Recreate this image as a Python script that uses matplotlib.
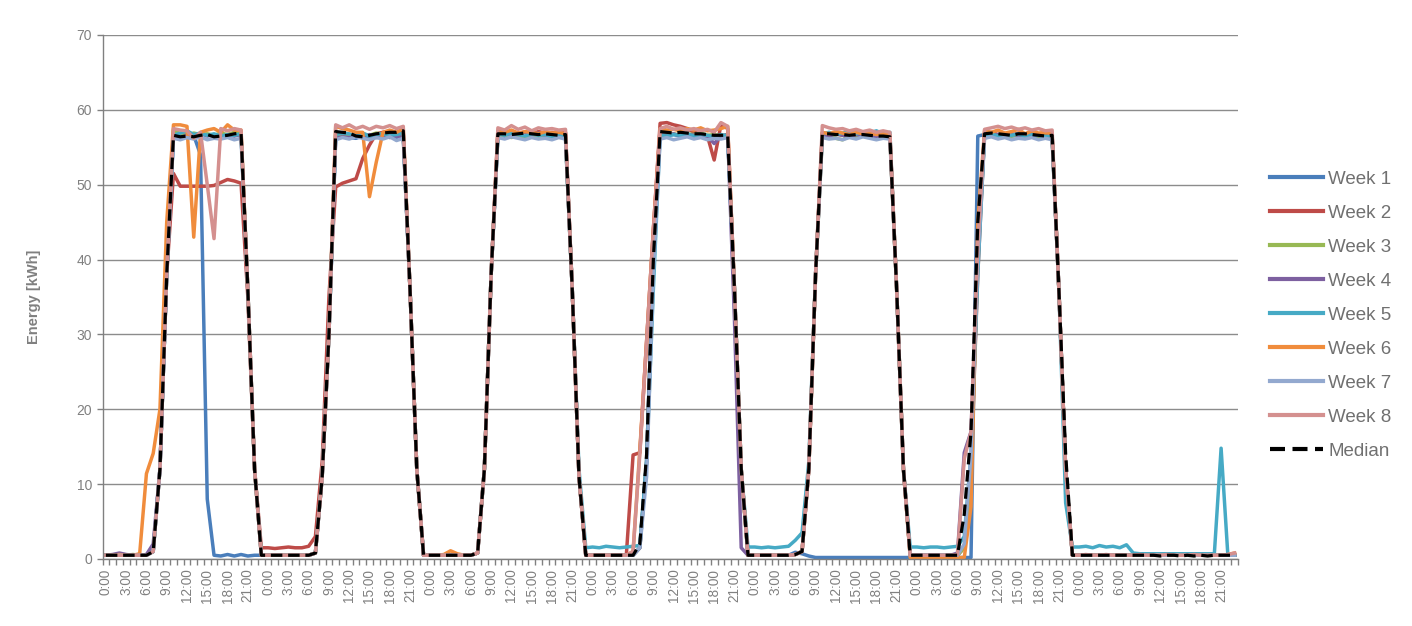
import numpy as np
import matplotlib
matplotlib.use('Agg')
import matplotlib.pyplot as plt

plt.rcParams['font.family'] = ['Liberation Sans', 'DejaVu Sans']

HOURS = [f'{h}:00' for h in range(24)]
N_DAYS = 7

# hourly energy [kWh], one row per day (Mon..Sun), 24 values each
WEEK_1 = [
    [0.5, 0.5, 0.6, 0.5, 0.5, 0.5, 0.5, 1.0, 12, 38, 56.5, 56.8, 57.0, 56.6, 54.0, 8.0, 0.5, 0.4, 0.6, 0.4, 0.6, 0.4, 0.5, 0.5],
    [0.5, 0.5, 0.5, 0.5, 0.5, 0.5, 0.5, 0.8, 11, 30, 56.6, 56.5, 56.3, 56.2, 56.5, 56.4, 56.3, 56.5, 56.6, 56.3, 56.8, 36, 12, 0.5],
    [0.5, 0.5, 0.5, 0.5, 0.5, 0.5, 0.5, 0.8, 12, 38, 56.6, 56.4, 56.5, 56.7, 56.4, 56.5, 56.6, 56.3, 56.5, 56.4, 56.6, 36, 11, 0.5],
    [0.5, 0.5, 0.5, 0.5, 0.5, 0.5, 0.5, 1.5, 13, 40, 56.8, 56.6, 56.7, 56.5, 56.6, 56.4, 56.6, 56.5, 56.3, 56.5, 56.6, 36, 12, 0.5],
    [0.5, 0.5, 0.5, 0.5, 0.5, 0.5, 0.9, 0.7, 0.4, 0.2, 0.2, 0.2, 0.2, 0.2, 0.2, 0.2, 0.2, 0.2, 0.2, 0.2, 0.2, 0.2, 0.2, 0.2],
    [0.2, 0.2, 0.2, 0.2, 0.2, 0.2, 0.2, 0.2, 0.2, 56.5, 56.7, 56.5, 56.6, 56.4, 56.5, 56.6, 56.4, 56.5, 56.3, 56.4, 56.5, 36, 12, 0.5],
    [0.5, 0.5, 0.5, 0.5, 0.5, 0.5, 0.5, 0.5, 0.5, 0.5, 0.5, 0.5, 0.5, 0.5, 0.5, 0.5, 0.5, 0.5, 0.5, 0.5, 0.5, 0.5, 0.5, 0.5],
]
WEEK_2 = [
    [0.5, 0.5, 0.5, 0.5, 0.5, 0.5, 0.5, 1.0, 12, 38, 51.5, 49.8, 49.8, 49.8, 49.8, 49.8, 49.9, 50.3, 50.7, 50.5, 50.2, 35, 12, 1.5],
    [1.5, 1.4, 1.5, 1.6, 1.5, 1.5, 1.7, 3.0, 13, 35, 49.7, 50.2, 50.5, 50.8, 53.5, 55.3, 56.8, 57.0, 57.1, 56.9, 57.0, 36, 12, 0.5],
    [0.5, 0.5, 0.5, 0.5, 0.5, 0.5, 0.5, 0.8, 12, 38, 57.0, 56.8, 57.1, 56.9, 57.0, 56.8, 57.1, 56.9, 57.0, 56.8, 57.0, 36, 11, 0.5],
    [0.5, 0.5, 0.5, 0.5, 0.5, 0.5, 13.9, 14.2, 29, 44, 58.2, 58.3, 58.0, 57.8, 57.5, 57.0, 56.8, 56.5, 53.3, 58.0, 57.5, 36, 12, 0.5],
    [0.5, 0.5, 0.5, 0.5, 0.5, 0.5, 0.6, 1.0, 12, 38, 56.9, 56.7, 56.8, 56.6, 56.8, 56.7, 56.9, 56.6, 56.7, 56.5, 56.6, 36, 12, 0.5],
    [0.5, 0.5, 0.5, 0.5, 0.5, 0.5, 0.5, 1.5, 12, 38, 56.9, 57.0, 56.7, 56.8, 56.6, 56.9, 56.7, 56.8, 56.6, 56.7, 56.5, 36, 12, 0.5],
    [0.5, 0.5, 0.5, 0.5, 0.5, 0.5, 0.5, 0.5, 0.5, 0.5, 0.5, 0.5, 0.5, 0.5, 0.5, 0.5, 0.5, 0.5, 0.5, 0.5, 0.5, 0.5, 0.5, 0.5],
]
WEEK_3 = [
    [0.5, 0.5, 0.5, 0.5, 0.6, 0.5, 0.5, 1.0, 12, 38, 57.3, 56.8, 56.6, 56.9, 56.7, 56.8, 56.6, 56.9, 56.7, 57.0, 56.8, 36, 12, 0.5],
    [0.5, 0.5, 0.5, 0.5, 0.5, 0.5, 0.5, 0.8, 11, 30, 56.8, 56.7, 56.6, 56.5, 56.8, 56.6, 56.9, 56.7, 56.5, 56.8, 56.6, 36, 12, 0.5],
    [0.5, 0.5, 0.5, 0.5, 0.5, 0.5, 0.5, 0.8, 12, 38, 56.5, 56.6, 56.3, 56.6, 56.2, 56.5, 56.4, 56.6, 56.3, 56.5, 56.4, 36, 11, 0.5],
    [0.5, 0.5, 0.5, 0.5, 0.5, 0.5, 0.5, 1.5, 13, 40, 56.9, 56.7, 56.8, 56.6, 56.8, 56.7, 56.9, 56.6, 56.7, 56.5, 56.7, 36, 12, 0.5],
    [0.5, 0.5, 0.5, 0.5, 0.5, 0.5, 0.6, 1.0, 12, 38, 56.4, 56.6, 56.2, 56.0, 56.5, 56.3, 56.6, 56.4, 56.2, 56.5, 56.3, 36, 12, 0.5],
    [0.5, 0.5, 0.5, 0.5, 0.5, 0.5, 0.5, 1.5, 12, 40, 56.5, 56.7, 56.4, 56.6, 56.5, 56.7, 56.3, 56.6, 56.4, 56.5, 56.3, 36, 12, 0.5],
    [0.5, 0.5, 0.5, 0.5, 0.5, 0.5, 0.5, 0.5, 0.5, 0.5, 0.5, 0.5, 0.5, 0.5, 0.5, 0.5, 0.5, 0.5, 0.5, 0.5, 0.5, 0.5, 0.5, 0.5],
]
WEEK_4 = [
    [0.5, 0.6, 0.8, 0.6, 0.5, 0.5, 0.6, 2.0, 12, 38, 56.5, 56.3, 56.6, 56.4, 56.8, 56.5, 56.7, 56.4, 56.6, 56.5, 56.7, 36, 12, 0.5],
    [0.5, 0.5, 0.5, 0.5, 0.5, 0.5, 0.5, 0.8, 11, 30, 56.2, 56.4, 56.3, 56.6, 56.5, 56.7, 56.4, 56.6, 56.3, 56.5, 56.4, 36, 12, 0.5],
    [0.5, 0.5, 0.5, 0.5, 0.5, 0.5, 0.5, 0.8, 12, 38, 56.7, 56.9, 56.6, 56.8, 57.0, 56.7, 56.9, 56.6, 56.8, 56.7, 56.9, 36, 11, 0.5],
    [0.5, 0.5, 0.5, 0.5, 0.5, 0.5, 0.5, 1.5, 13, 40, 56.7, 56.6, 56.8, 56.5, 56.7, 56.6, 56.4, 56.5, 55.5, 56.5, 56.7, 32, 1.5, 0.5],
    [0.5, 0.5, 0.5, 0.5, 0.5, 0.5, 0.6, 1.0, 12, 38, 56.7, 56.5, 56.8, 56.6, 56.4, 56.7, 56.5, 56.6, 56.4, 56.6, 56.5, 36, 12, 0.5],
    [0.5, 0.5, 0.5, 0.5, 0.5, 0.5, 0.8, 14.2, 17, 40, 56.8, 56.6, 56.7, 56.5, 56.8, 56.6, 56.7, 56.5, 56.6, 56.4, 56.6, 36, 12, 0.5],
    [0.5, 0.5, 0.5, 0.5, 0.5, 0.5, 0.5, 0.5, 0.5, 0.5, 0.5, 0.5, 0.5, 0.5, 0.5, 0.5, 0.5, 0.5, 0.5, 0.5, 0.5, 0.5, 0.5, 0.5],
]
WEEK_5 = [
    [0.5, 0.5, 0.5, 0.5, 0.5, 0.5, 0.5, 1.0, 12, 38, 56.6, 56.9, 57.2, 56.7, 56.9, 56.6, 56.8, 56.5, 56.7, 56.6, 56.8, 36, 12, 0.5],
    [0.5, 0.5, 0.5, 0.5, 0.5, 0.5, 0.5, 0.8, 11, 30, 56.7, 56.9, 56.8, 56.6, 56.9, 56.5, 56.7, 56.8, 56.6, 56.7, 56.9, 36, 12, 0.5],
    [0.5, 0.5, 0.5, 0.5, 0.5, 0.5, 0.5, 0.8, 12, 38, 56.8, 56.6, 56.9, 56.7, 56.5, 56.8, 56.6, 56.7, 56.4, 56.6, 56.5, 36, 12, 1.5],
    [1.6, 1.5, 1.7, 1.6, 1.5, 1.6, 1.7, 1.8, 13, 36, 56.6, 56.5, 56.7, 56.6, 56.8, 56.5, 56.7, 56.6, 56.4, 56.7, 56.5, 36, 12, 1.6],
    [1.6, 1.5, 1.6, 1.5, 1.6, 1.7, 2.5, 3.5, 13, 38, 56.8, 57.0, 56.7, 56.9, 57.1, 56.8, 57.0, 56.9, 57.2, 56.8, 57.0, 36, 12, 1.6],
    [1.6, 1.5, 1.6, 1.6, 1.5, 1.6, 1.7, 3.0, 14, 38, 56.6, 56.8, 56.5, 56.7, 56.6, 56.8, 56.5, 56.7, 56.6, 56.4, 56.6, 36, 7.5, 1.6],
    [1.6, 1.7, 1.5, 1.8, 1.6, 1.7, 1.5, 1.9, 0.8, 0.7, 0.7, 0.7, 0.7, 0.7, 0.7, 0.7, 0.7, 0.7, 0.7, 0.7, 0.7, 14.8, 0.5, 0.5],
]
WEEK_6 = [
    [0.5, 0.5, 0.6, 0.5, 0.5, 0.7, 11.4, 14.1, 20, 45, 58.0, 58.0, 57.8, 43.0, 57.0, 57.3, 57.5, 57.0, 58.0, 57.3, 57.3, 36, 12, 0.5],
    [0.5, 0.5, 0.5, 0.5, 0.5, 0.5, 0.5, 0.8, 11, 30, 57.8, 57.5, 57.3, 57.0, 57.0, 48.4, 53.0, 57.0, 57.3, 57.0, 57.5, 36, 12, 0.5],
    [0.5, 0.5, 0.6, 1.1, 0.7, 0.5, 0.5, 0.8, 12, 38, 57.2, 57.0, 57.3, 56.9, 57.1, 57.0, 56.8, 57.1, 56.9, 57.0, 56.8, 36, 11, 0.5],
    [0.5, 0.5, 0.5, 0.5, 0.5, 0.5, 1.0, 14.6, 29, 44, 57.5, 57.3, 57.4, 57.2, 57.5, 57.3, 57.6, 57.2, 57.3, 57.5, 57.8, 36, 12, 0.5],
    [0.5, 0.5, 0.5, 0.5, 0.5, 0.5, 0.6, 1.0, 12, 38, 57.0, 56.8, 57.1, 56.9, 56.7, 57.0, 56.8, 56.9, 56.7, 56.8, 56.6, 36, 12, 0.2],
    [0.2, 0.2, 0.2, 0.2, 0.2, 0.2, 0.2, 0.2, 7, 45, 57.2, 57.0, 57.3, 56.9, 57.1, 57.4, 56.8, 57.2, 56.9, 57.0, 56.8, 36, 12, 0.5],
    [0.5, 0.5, 0.5, 0.5, 0.5, 0.5, 0.5, 0.5, 0.5, 0.5, 0.5, 0.5, 0.5, 0.5, 0.5, 0.5, 0.5, 0.5, 0.5, 0.5, 0.5, 0.5, 0.6, 0.8],
]
WEEK_7 = [
    [0.5, 0.5, 0.5, 0.5, 0.5, 0.5, 0.5, 1.0, 12, 38, 56.2, 56.0, 56.3, 56.1, 56.4, 56.0, 56.2, 56.1, 56.3, 56.0, 56.2, 36, 12, 0.5],
    [0.5, 0.5, 0.5, 0.5, 0.5, 0.5, 0.5, 0.8, 11, 30, 56.0, 56.3, 56.1, 56.4, 56.2, 56.0, 56.3, 56.1, 56.4, 55.9, 56.2, 36, 12, 0.5],
    [0.5, 0.5, 0.5, 0.5, 0.5, 0.5, 0.5, 0.8, 12, 38, 56.3, 56.1, 56.4, 56.2, 56.0, 56.3, 56.1, 56.2, 56.0, 56.3, 56.1, 36, 11, 0.5],
    [0.5, 0.5, 0.5, 0.5, 0.5, 0.5, 0.5, 1.5, 11, 38, 56.1, 56.3, 56.0, 56.2, 56.4, 56.1, 56.3, 56.0, 56.2, 56.1, 56.3, 36, 12, 0.5],
    [0.5, 0.5, 0.5, 0.5, 0.5, 0.5, 0.6, 1.0, 12, 38, 56.3, 56.1, 56.2, 56.0, 56.3, 56.1, 56.4, 56.2, 56.0, 56.2, 56.1, 36, 12, 0.5],
    [0.5, 0.5, 0.5, 0.5, 0.5, 0.5, 0.5, 2.0, 14, 40, 56.2, 56.4, 56.1, 56.3, 56.0, 56.2, 56.1, 56.3, 56.0, 56.2, 56.0, 36, 12, 0.5],
    [0.5, 0.5, 0.5, 0.5, 0.5, 0.5, 0.5, 0.5, 0.5, 0.5, 0.5, 0.5, 0.5, 0.5, 0.5, 0.5, 0.5, 0.5, 0.5, 0.5, 0.5, 0.5, 0.5, 0.5],
]
WEEK_8 = [
    [0.5, 0.5, 0.5, 0.5, 0.5, 0.5, 0.5, 1.0, 12, 38, 57.5, 57.3, 57.2, 56.2, 57.0, 50.0, 42.8, 57.5, 57.2, 57.5, 57.3, 36, 12, 0.5],
    [0.5, 0.5, 0.5, 0.5, 0.5, 0.5, 0.5, 0.8, 11, 30, 58.0, 57.6, 58.0, 57.5, 57.8, 57.4, 57.8, 57.6, 57.9, 57.5, 57.8, 36, 12, 0.5],
    [0.5, 0.5, 0.5, 0.5, 0.5, 0.5, 0.5, 0.8, 12, 38, 57.6, 57.3, 57.9, 57.4, 57.7, 57.2, 57.6, 57.4, 57.5, 57.3, 57.4, 36, 11, 0.5],
    [0.5, 0.5, 0.5, 0.5, 0.5, 0.5, 1.0, 14.0, 29, 44, 57.5, 57.8, 57.4, 57.6, 57.3, 57.5, 57.2, 57.4, 57.0, 58.3, 57.8, 36, 12, 0.5],
    [0.5, 0.5, 0.5, 0.5, 0.5, 0.5, 0.6, 1.0, 12, 38, 57.9, 57.6, 57.4, 57.5, 57.2, 57.4, 57.1, 57.3, 57.0, 57.2, 57.0, 36, 12, 0.5],
    [0.5, 0.5, 0.5, 0.5, 0.5, 0.5, 0.6, 13.4, 17, 42, 57.4, 57.6, 57.8, 57.5, 57.7, 57.4, 57.6, 57.3, 57.5, 57.2, 57.3, 36, 12, 0.5],
    [0.5, 0.6, 0.5, 0.5, 0.6, 0.5, 0.5, 0.5, 0.5, 0.6, 0.5, 0.5, 0.5, 0.6, 0.5, 0.5, 0.5, 0.6, 0.5, 0.5, 0.5, 0.5, 0.6, 0.8],
]
MEDIAN = [
    [0.5, 0.5, 0.5, 0.5, 0.5, 0.5, 0.5, 1.0, 12, 38, 56.6, 56.4, 56.5, 56.4, 56.6, 56.7, 56.4, 56.5, 56.6, 56.8, 56.9, 36, 12, 0.5],
    [0.5, 0.5, 0.5, 0.5, 0.5, 0.5, 0.5, 0.8, 11, 30, 57.1, 57.0, 56.9, 56.5, 56.4, 56.6, 56.8, 56.9, 57.0, 57.0, 57.2, 36, 12, 0.5],
    [0.5, 0.5, 0.5, 0.5, 0.5, 0.5, 0.5, 0.8, 12, 38, 56.8, 56.8, 56.7, 56.8, 56.9, 56.8, 56.7, 56.8, 56.7, 56.6, 56.7, 36, 11, 0.5],
    [0.5, 0.5, 0.5, 0.5, 0.5, 0.5, 0.5, 2.0, 14, 40, 57.1, 57.0, 56.9, 57.0, 56.9, 56.8, 56.8, 56.7, 56.6, 56.6, 56.6, 36, 12, 0.5],
    [0.5, 0.5, 0.5, 0.5, 0.5, 0.5, 0.6, 1.0, 12, 38, 56.8, 56.8, 56.7, 56.7, 56.6, 56.7, 56.7, 56.6, 56.5, 56.5, 56.4, 36, 12, 0.5],
    [0.5, 0.5, 0.5, 0.5, 0.5, 0.5, 0.5, 6.0, 17, 45, 56.8, 56.9, 56.8, 56.7, 56.6, 56.8, 56.8, 56.7, 56.6, 56.5, 56.6, 36, 14, 0.5],
    [0.5, 0.5, 0.5, 0.5, 0.5, 0.5, 0.5, 0.5, 0.5, 0.5, 0.5, 0.5, 0.4, 0.5, 0.5, 0.4, 0.5, 0.4, 0.5, 0.4, 0.5, 0.5, 0.5, 0.5],
]

WEEKS = [WEEK_1, WEEK_2, WEEK_3, WEEK_4, WEEK_5, WEEK_6, WEEK_7, WEEK_8]
LABELS = ['Week 1', 'Week 2', 'Week 3', 'Week 4', 'Week 5', 'Week 6', 'Week 7', 'Week 8']
COLORS = ['#4A7EBB', '#BE4B48', '#98B954', '#7D60A0', '#46AAC5', '#F08C3C', '#93A9CF', '#D4908F']

GRAY = '#808080'

W, H = 1412, 626
fig = plt.figure(figsize=(W / 100, H / 100), dpi=100)
ax = fig.add_axes([102.5 / W, 1 - 559 / H, (1238 - 102.5) / W, (559 - 35) / H])

n = N_DAYS * 24
x = np.arange(n) + 0.5

for data, label, color in zip(WEEKS, LABELS, COLORS):
    y = np.concatenate(data)
    assert len(y) == n
    ax.plot(x, y, color=color, lw=2.5, label=label, solid_joinstyle='round')

ax.plot(x, np.concatenate(MEDIAN), color='black', lw=2.3, dashes=(3.6, 1.8), label='Median')

ax.set_xlim(0, n)
ax.set_ylim(0, 70)
ax.set_yticks(range(0, 71, 10))
ax.yaxis.grid(True, color='#8C8C8C', lw=1)
ax.set_axisbelow(True)

# one label every 3 hours, tick marks between every hour
ax.set_xticks(x[::3])
ax.set_xticklabels([HOURS[i % 24] for i in range(0, n, 3)], rotation=90)
ax.set_xticks(np.arange(n + 1), minor=True)
ax.tick_params(axis='x', which='major', length=0, pad=7, labelsize=9.8, labelcolor=GRAY)
ax.tick_params(axis='x', which='minor', length=4, width=1, color=GRAY, direction='out')
ax.tick_params(axis='y', length=4.5, width=1, color=GRAY, pad=3, labelsize=10, labelcolor=GRAY)

for side in ['top', 'right']:
    ax.spines[side].set_visible(False)
for side in ['left', 'bottom']:
    ax.spines[side].set_color(GRAY)
    ax.spines[side].set_linewidth(1)

ax.set_ylabel('Energy [kWh]', fontsize=10.5, fontweight='bold', color=GRAY)
ax.yaxis.set_label_coords((41 - 102.5) / (1238 - 102.5), 0.5)

leg = fig.legend(loc='center left', bbox_to_anchor=(1270 / W, 1 - 315 / H),
                 frameon=False, fontsize=13.5, handlelength=2.8, handletextpad=0.3,
                 labelspacing=0.9, borderpad=0, borderaxespad=0)
for t in leg.get_texts():
    t.set_color('#707070')
for h in leg.legend_handles:
    h.set_linewidth(3)

fig.savefig('out.png', dpi=100)
